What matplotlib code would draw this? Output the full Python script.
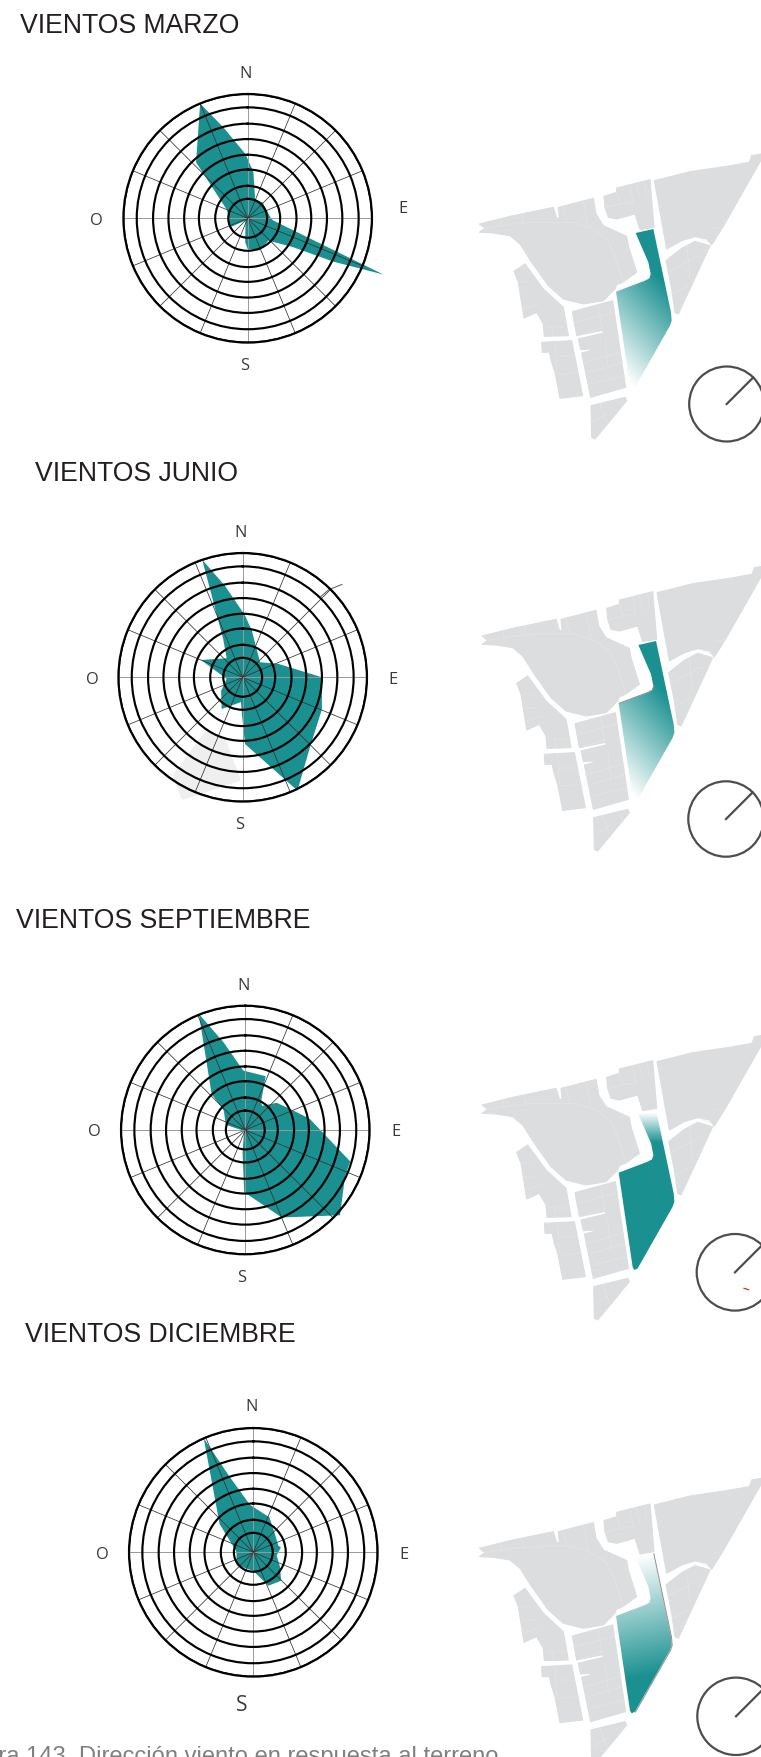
import numpy as np
import matplotlib
matplotlib.use('Agg')
import matplotlib.pyplot as plt
from matplotlib.patches import Polygon, Circle

W, H = 761, 1758
TEAL = (0.102, 0.565, 0.565)
GRAY = '#dcddde'

rings = [1.25, 2.09, 3.14, 4.09, 5.1, 6.09, 7.14, 8]

# (bearing from north in degrees, value on the 0-8 rings)
marzo_dir = [7, 21, 43, 90, 95, 112.5, 116.8, 122.4, 137, 160, 180, 186, 225, 243, 270, 292.5, 317.3, 337.5, 345, 358]
marzo_val = [3.0, 1.33, 1.4, 1.5, 1.66, 9.46, 6.2, 3.48, 1.96, 2.2, 1.97, 1.55, 0.2, 1.3, 1.2, 1.46, 4.9, 8.0, 6.06, 4.14]

junio_dir = [2, 11, 49, 69.5, 90, 112, 135.4, 154.2, 178, 181.6, 184, 213.5, 238, 264, 292.6, 320, 333, 341, 349]
junio_val = [4.0, 3.07, 1.48, 2.46, 5.1, 5.5, 6.2, 8.1, 4.3, 2.26, 1.6, 2.45, 1.64, 1.04, 2.9, 1.6, 2.77, 8.0, 6.0]

sept_dir = [20.7, 29.5, 35, 49, 68, 80, 106.7, 114.6, 132, 157.4, 181, 187, 230, 285, 312, 317, 338.2, 346, 358]
sept_val = [3.7, 2.05, 1.9, 2.67, 3.34, 4.2, 7.05, 7.07, 8.2, 6.1, 4.0, 1.45, 0.1, 1.3, 1.86, 3.18, 8.05, 5.83, 3.83]

dic_dir = [24.6, 40.6, 75, 80, 98, 119, 135.7, 155.8, 180, 232.8, 270, 280, 310, 336.5, 342.7, 356]
dic_val = [2.48, 1.98, 1.67, 1.8, 1.52, 1.97, 2.56, 2.36, 1.2, 1.35, 1.08, 1.2, 2.83, 8.0, 5.07, 3.06]

blob_dir = [182.4, 197.4, 213, 214.5, 206.3]
blob_val = [6.57, 4.17, 4.27, 7.7, 8.63]

titles = ['VIENTOS MARZO', 'VIENTOS JUNIO', 'VIENTOS SEPTIEMBRE', 'VIENTOS DICIEMBRE']
title_x = [20, 35, 16, 25]
title_y = [33, 481.5, 928.5, 1342]

rose_cx = [247.7, 242.7, 245.3, 253.3]
rose_cy = [219.3, 678.3, 1131, 1553.3]
rose_r = 124.3

labels = ['N', 'E', 'S', 'O']
label_x = [[245.7, 402.7, 244.3, 96.7], [241, 393.3, 240, 92.3], [243.7, 396, 242, 94.3], [251.7, 404, 241.3, 102.3]]
label_y = [[73.8, 209.2, 366.5, 220.8], [533.2, 679.8, 825.5, 679.8], [985.8, 1132.2, 1278.2, 1132.2], [1407.5, 1554.8, 1705.5, 1554.8]]

# map outlines, in 3x pixels of the first map
blocks = [
    [(583,125),(690,98),(800,82),(868,70),(875,50),(903,45),(905,60),(790,262),(755,318),(740,300),(705,293),(665,305),(620,330)],
    [(618,365),(665,328),(705,307),(750,320),(655,525),(645,520),(635,450)],
    [(432,172),(470,160),(470,147),(570,122),(582,265),(540,272),(525,225),(470,240),(445,235),(435,205)],
    [(58,255),(150,232),(280,205),(290,238),(298,238),(295,205),(400,178),(408,225),(430,260),(500,292),(505,320),(530,400),(488,430),(470,437),
     (465,450),(430,485),(370,495),(310,480),(265,440),(215,370),(180,315),(150,290),(100,282),(58,280),(75,268)],
    [(162,397),(195,375),(250,450),(310,505),(325,590),(253,592),(250,555),(230,520),(192,537),(175,430)],
    [(337,518),(458,485),(497,745),(392,775),(365,642),(392,635),(392,630),(362,632),(355,600),(430,582),(428,574),(350,590)],
    [(245,610),(335,605),(368,770),(300,778),(285,700),(275,670),(268,640),(247,640)],
    [(393,800),(495,775),(500,785),(405,900),(395,895)],
]
parcels = [
    [(75,268),(180,252),(280,250),(340,250),(400,270),(440,300),(465,350),(490,430)],
    [(470,160),(480,195),(440,205)], [(510,140),(520,190),(480,195)], [(530,135),(540,180)], [(555,130),(560,175)],
    [(310,205),(320,245)], [(370,188),(385,260)], [(120,240),(125,265)], [(185,225),(190,255)],
    [(620,400),(715,350)], [(630,470),(685,440)], [(680,320),(690,420)], [(715,295),(745,310)], [(760,270),(790,265)],
    [(345,550),(460,520)], [(355,590),(430,565)], [(375,670),(480,640)], [(385,700),(490,670)], [(390,735),(495,710)],
    [(415,500),(425,570)], [(435,600),(445,690)],
    [(175,430),(210,430)], [(190,510),(235,495)], [(185,470),(220,470)],
    [(290,650),(345,650)], [(295,705),(360,700)], [(285,610),(290,700)], [(255,565),(322,565)], [(275,560),(280,590)],
    [(420,795),(440,850)], [(400,850),(440,825)],
]
project = [(527,282),(580,270),(633,520),(635,545),(630,560),(525,745),(515,750),(510,742),(468,458),(555,425),(568,418),(572,405),(565,370)]

map_dx = [0, 2.7, 2.7, 0]
map_dy = [0, 412, 881, 1324.3]
# gradient start (white) and end (teal) in the same 3x pixels
grad = [(520,745,725.7,559.1), (520,745,725.7,559.1), (540,277,540,367), (540,277,616,625)]

# thin gray edge seen along the plot in some maps (index ranges of project)
edge_from = [None, 8, None, 1]
edge_to = [None, 12, None, 6]

compass_x = [726.7, 726, 735, 736]
compass_y = [405, 820, 1273.3, 1717.3]
compass_r = [37.5, 37.7, 38.3, 38.7]


def to_px(pts, dx, dy):
    pts = np.array(pts, dtype=float)
    return np.column_stack([460 + pts[:, 0] / 3 + dx, 140 + pts[:, 1] / 3 + dy])


def draw_map(ax, i):
    dx, dy = map_dx[i], map_dy[i]
    for b in blocks:
        ax.add_patch(Polygon(to_px(b, dx, dy), closed=True, fc=GRAY, ec=GRAY, lw=0.8, joinstyle='round', zorder=1))
    for p in parcels:
        xy = to_px(p, dx, dy)
        ax.plot(xy[:, 0], xy[:, 1], color='#e9e9ea', lw=0.35, zorder=1.5)

    xy = to_px(project, dx, dy)
    poly = Polygon(xy, closed=True, fc='none', ec='none', zorder=3)
    ax.add_patch(poly)

    x0, y0, x1, y1 = grad[i]
    p0 = to_px([(x0, y0)], dx, dy)[0]
    p1 = to_px([(x1, y1)], dx, dy)[0]
    l, r = xy[:, 0].min() - 1, xy[:, 0].max() + 1
    t, b = xy[:, 1].min() - 1, xy[:, 1].max() + 1
    xx, yy = np.meshgrid(np.linspace(l, r, 200), np.linspace(t, b, 400))
    v = p1 - p0
    a = np.clip(((xx - p0[0]) * v[0] + (yy - p0[1]) * v[1]) / (v @ v), 0, 1)
    rgba = np.zeros(a.shape + (4,))
    rgba[..., 0], rgba[..., 1], rgba[..., 2] = TEAL
    rgba[..., 3] = a
    # white below the fade so the gray map does not show through
    ax.add_patch(Polygon(xy, closed=True, fc='white', ec='none', zorder=2.5))
    im = ax.imshow(rgba, extent=(l, r, b, t), zorder=3, aspect='auto', interpolation='bilinear')
    im.set_clip_path(poly)

    if edge_from[i] is not None:
        seg = xy[edge_from[i]:edge_to[i]]
        ax.plot(seg[:, 0] + 0.5, seg[:, 1] + (0.4 if i == 3 else -0.4), color='#8f8f8f', lw=0.7, zorder=3.5)

    c = Circle((compass_x[i], compass_y[i]), compass_r[i], fc='none', ec='#4d4d4d', lw=1.6, zorder=4)
    ax.add_patch(c)
    d = compass_r[i] * 0.707
    ax.plot([compass_x[i], compass_x[i] + d], [compass_y[i], compass_y[i] - d], color='#4d4d4d', lw=1.6, zorder=4)


def draw_rose(i, dirs, vals):
    cx, cy = rose_cx[i], rose_cy[i]
    ax = fig.add_axes([(cx - rose_r) / W, 1 - (cy + rose_r) / H, 2 * rose_r / W, 2 * rose_r / H], projection='polar')
    ax.set_facecolor('none')
    ax.set_theta_zero_location('N')
    ax.set_theta_direction(-1)
    if i == 1:
        ax.fill(np.radians(blob_dir), blob_val, color='#efefef', lw=3, joinstyle='round', clip_on=False, zorder=0.5)
        ax.plot(np.radians([44, 44.5, 46.9]), [7.2, 7.9, 8.75], color='#555555', lw=0.7, clip_on=False, zorder=2)
    ax.fill(np.radians(dirs), vals, color=TEAL, lw=0, clip_on=False, zorder=1)
    ax.set_ylim(0, 8)
    ax.set_yticks(rings)
    ax.set_yticklabels([])
    ax.set_xticks(np.radians(np.arange(0, 360, 22.5)))
    ax.set_xticklabels([])
    ax.tick_params(length=0)
    ax.yaxis.grid(True, color='black', lw=1.55)
    ax.xaxis.grid(True, color='#333333', lw=0.55)
    for k, g in enumerate(ax.xaxis.get_gridlines()):
        if k % 4 == 0:
            g.set_color('#999999')
            g.set_linewidth(0.7)
    ax.spines['polar'].set_color('black')
    ax.spines['polar'].set_linewidth(1.55)
    ax.set_zorder(5)


fig = plt.figure(figsize=(W / 100, H / 100), dpi=100, facecolor='white')
bg = fig.add_axes([0, 0, 1, 1])
bg.set_xlim(0, W)
bg.set_ylim(H, 0)
bg.axis('off')

for i in range(4):
    draw_map(bg, i)
bg.set_xlim(0, W)
bg.set_ylim(H, 0)

draw_rose(0, marzo_dir, marzo_val)
draw_rose(1, junio_dir, junio_val)
draw_rose(2, sept_dir, sept_val)
draw_rose(3, dic_dir, dic_val)

for i in range(4):
    bg.text(title_x[i], title_y[i], titles[i], family='Liberation Sans', fontsize=19.15, color='#231f20', va='baseline', ha='left')
    for j in range(4):
        size = 15 if (i == 3 and labels[j] == 'S') else 11.8
        bg.text(label_x[i][j], label_y[i][j], labels[j], family='Open Sans', fontsize=size, color='#3a3a3a', va='center', ha='center')

bg.plot([744, 748.7], [1289.3, 1290.7], color='#c0392b', lw=0.9, zorder=5)
bg.text(498, 1763, 'Figura 143. Dirección viento en respuesta al terreno', family='Liberation Sans', fontsize=17.1,
        color='#808080', va='baseline', ha='right')

fig.savefig('out.png', dpi=100, facecolor='white')
